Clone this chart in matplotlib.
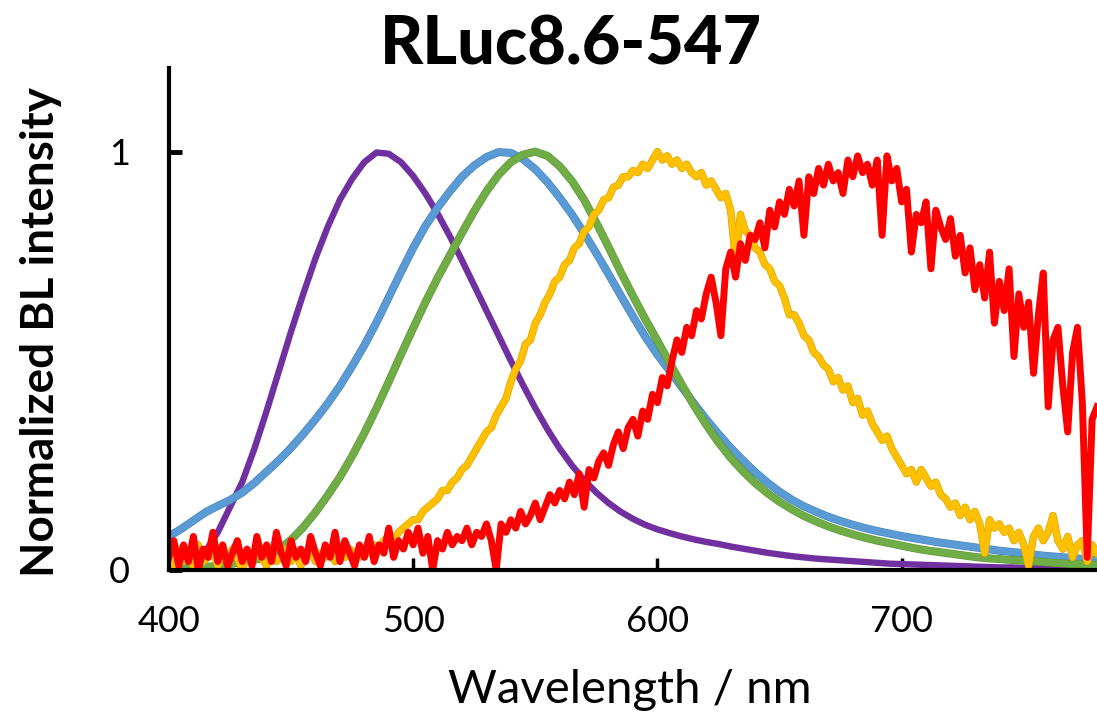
import numpy as np
import matplotlib
matplotlib.use("Agg")
import matplotlib.pyplot as plt
import matplotlib.patheffects as pe

plt.rcParams["font.family"] = ["Lato", "DejaVu Sans"]

# ── Data (normalized BL intensity) ────────────────────────────────────────
# smooth spectra, 5 nm step, 400–780 nm
wl_smooth = np.arange(400, 781, 5)

purple = [0.0, 0.005, 0.015, 0.045, 0.09, 0.15, 0.21, 0.29, 0.38, 0.475,
          0.57, 0.66, 0.745, 0.82, 0.885, 0.935, 0.975, 0.998, 0.995, 0.975,
          0.942, 0.9, 0.852, 0.798, 0.74, 0.68, 0.62, 0.56, 0.5, 0.442,
          0.387, 0.336, 0.29, 0.25, 0.215, 0.185, 0.16, 0.139, 0.122, 0.108,
          0.097, 0.088, 0.08, 0.073, 0.067, 0.062, 0.056, 0.051, 0.046, 0.041,
          0.037, 0.033, 0.03, 0.027, 0.025, 0.023, 0.021, 0.019, 0.017, 0.015,
          0.014, 0.013, 0.012, 0.011, 0.01, 0.009, 0.008, 0.007, 0.006, 0.006,
          0.005, 0.005, 0.004, 0.004, 0.003, 0.003, 0.003]

blue = [0.08, 0.098, 0.118, 0.138, 0.153, 0.167, 0.185, 0.208, 0.235, 0.262,
        0.292, 0.325, 0.36, 0.398, 0.44, 0.487, 0.537, 0.592, 0.652, 0.712,
        0.77, 0.822, 0.866, 0.905, 0.94, 0.967, 0.987, 0.999, 0.997, 0.982,
        0.958, 0.927, 0.89, 0.85, 0.805, 0.757, 0.707, 0.656, 0.606, 0.558,
        0.515, 0.476, 0.437, 0.398, 0.36, 0.325, 0.292, 0.262, 0.234, 0.209,
        0.187, 0.168, 0.152, 0.139, 0.127, 0.117, 0.108, 0.1, 0.093, 0.087,
        0.081, 0.076, 0.071, 0.066, 0.062, 0.058, 0.054, 0.05, 0.046, 0.043,
        0.04, 0.036, 0.033, 0.031, 0.028, 0.026, 0.024]

green = [0.0, 0.002, 0.004, 0.007, 0.01, 0.014, 0.019, 0.024, 0.03, 0.048,
         0.072, 0.102, 0.138, 0.178, 0.222, 0.272, 0.327, 0.387, 0.45, 0.515,
         0.578, 0.64, 0.698, 0.752, 0.806, 0.858, 0.905, 0.945, 0.975, 0.993,
         1.0, 0.99, 0.965, 0.93, 0.885, 0.83, 0.772, 0.712, 0.655, 0.6,
         0.548, 0.495, 0.443, 0.393, 0.347, 0.305, 0.268, 0.236, 0.208, 0.184,
         0.163, 0.145, 0.129, 0.116, 0.104, 0.094, 0.085, 0.077, 0.07, 0.064,
         0.058, 0.052, 0.047, 0.043, 0.039, 0.035, 0.031, 0.028, 0.026, 0.024,
         0.022, 0.02, 0.018, 0.016, 0.014, 0.013, 0.012]

# noisy spectra, 2 nm step, 400–780 nm
wl_noisy = np.arange(400, 781, 2)

yellow = [0.03, 0.0, 0.05, 0.02, 0.04, 0.01, 0.06, 0.02, 0.03, 0.05,
          0.01, 0.04, 0.02, 0.05, 0.03, 0.0, 0.04, 0.02, 0.05, 0.03,
          0.01, 0.04, 0.02, 0.03, 0.05, 0.02, 0.04, 0.01, 0.03, 0.05,
          0.02, 0.04, 0.03, 0.05, 0.02, 0.04, 0.03, 0.05, 0.04, 0.03,
          0.05, 0.04, 0.06, 0.05, 0.07, 0.08, 0.07, 0.09, 0.1, 0.11,
          0.12, 0.12, 0.14, 0.15, 0.16, 0.17, 0.19, 0.19, 0.21, 0.22,
          0.24, 0.25, 0.27, 0.29, 0.31, 0.33, 0.34, 0.37, 0.39, 0.41,
          0.45, 0.48, 0.5, 0.54, 0.55, 0.59, 0.61, 0.64, 0.66, 0.69,
          0.7, 0.73, 0.74, 0.77, 0.78, 0.81, 0.82, 0.85, 0.86, 0.885,
          0.89, 0.915, 0.92, 0.94, 0.94, 0.955, 0.95, 0.97, 0.96, 0.98,
          1.0, 0.98, 0.99, 0.97, 0.98, 0.96, 0.97, 0.95, 0.94, 0.95,
          0.92, 0.93, 0.91, 0.89, 0.9, 0.86, 0.74, 0.85, 0.81, 0.8,
          0.77, 0.76, 0.73, 0.72, 0.69, 0.68, 0.65, 0.61, 0.61, 0.59,
          0.56, 0.55, 0.52, 0.51, 0.49, 0.48, 0.45, 0.46, 0.43, 0.44,
          0.4, 0.41, 0.37, 0.38, 0.35, 0.33, 0.31, 0.32, 0.29, 0.27,
          0.25, 0.23, 0.24, 0.21, 0.24, 0.22, 0.2, 0.21, 0.18, 0.17,
          0.15, 0.16, 0.13, 0.15, 0.12, 0.14, 0.11, 0.04, 0.12, 0.1,
          0.11, 0.09, 0.1, 0.07, 0.09, 0.06, 0.01, 0.08, 0.1, 0.07,
          0.09, 0.13, 0.07, 0.05, 0.08, 0.03, 0.06, 0.07, 0.02, 0.06,
          0.04]

red = [0.03, 0.07, 0.01, 0.06, 0.02, 0.08, 0.0, 0.05, 0.03, 0.09,
       0.02, 0.06, 0.01, 0.04, 0.07, 0.02, 0.05, 0.01, 0.08, 0.03,
       0.06, 0.02, 0.09, 0.04, 0.01, 0.07, 0.03, 0.05, 0.02, 0.08,
       0.04, 0.01, 0.06, 0.03, 0.09, 0.02, 0.07, 0.04, 0.01, 0.06,
       0.03, 0.08, 0.02, 0.06, 0.04, 0.1, 0.03, 0.07, 0.05, 0.09,
       0.06, 0.1, 0.04, 0.08, 0.0, 0.07, 0.05, 0.09, 0.06, 0.08,
       0.07, 0.1, 0.06, 0.09, 0.08, 0.11, 0.07, 0.0, 0.11, 0.09,
       0.12, 0.1, 0.14, 0.11, 0.13, 0.16, 0.12, 0.15, 0.18, 0.16,
       0.19, 0.17, 0.21, 0.18, 0.23, 0.15, 0.24, 0.22, 0.26, 0.28,
       0.25, 0.3, 0.33, 0.29, 0.34, 0.36, 0.32, 0.38, 0.36, 0.42,
       0.4, 0.46, 0.44, 0.5, 0.55, 0.52, 0.58, 0.56, 0.62, 0.6,
       0.66, 0.7, 0.64, 0.56, 0.72, 0.76, 0.7, 0.78, 0.74, 0.8,
       0.79, 0.83, 0.77, 0.86, 0.82, 0.88, 0.85, 0.91, 0.87, 0.93,
       0.8, 0.94, 0.9, 0.96, 0.92, 0.97, 0.93, 0.95, 0.9, 0.98,
       0.94, 0.99, 0.95, 0.97, 0.92, 0.98, 0.8, 0.99, 0.93, 0.96,
       0.88, 0.91, 0.76, 0.85, 0.83, 0.88, 0.72, 0.86, 0.82, 0.79,
       0.84, 0.75, 0.8, 0.71, 0.77, 0.67, 0.73, 0.65, 0.76, 0.59,
       0.69, 0.62, 0.72, 0.51, 0.66, 0.58, 0.64, 0.47, 0.61, 0.71,
       0.39, 0.55, 0.58, 0.44, 0.33, 0.52, 0.58, 0.4, 0.03, 0.36,
       0.39]

x_ticks = [400, 500, 600, 700]
y_ticks = [0, 1]

# ── Plot ──────────────────────────────────────────────────────────────────
fig = plt.figure(figsize=(10.97, 7.16), dpi=100)
ax = fig.add_axes([0.154, 0.204, 0.846, 0.701])

def edge(color, lw):
    return [pe.Stroke(linewidth=lw + 1.0, foreground=color), pe.Normal()]

ax.plot(wl_smooth, purple, color="#7030A0", lw=4.6, solid_joinstyle="round",
        solid_capstyle="round")
ax.plot(wl_smooth, blue, color="#5B9BD5", lw=4.8, solid_joinstyle="round",
        path_effects=edge("#4A86BE", 4.8))
ax.plot(wl_smooth, green, color="#70AD47", lw=4.8, solid_joinstyle="round",
        path_effects=edge("#5E9A3A", 4.8))
ax.plot(wl_noisy, yellow, color="#FFC000", lw=4.4, solid_joinstyle="round",
        path_effects=edge("#E0A800", 4.4))
ax.plot(wl_noisy, red, color="#FF0000", lw=5.0, solid_joinstyle="round")

ax.set_xlim(400, 780)
ax.set_ylim(0, 1.2)
ax.set_xticks(x_ticks)
ax.set_yticks(y_ticks)

for side in ("top", "right"):
    ax.spines[side].set_visible(False)
for side in ("left", "bottom"):
    ax.spines[side].set_linewidth(3)
    ax.spines[side].set_zorder(5)

ax.tick_params(axis="x", direction="in", length=9, width=2.5,
               labelsize=26, pad=25)
ax.tick_params(axis="y", direction="in", length=9, width=3.5,
               labelsize=26, pad=28)

fig.text(0.52, 0.936, "RLuc8.6-547", ha="center", va="center",
         fontsize=48, fontweight="black")
fig.text(0.574, 0.036, "Wavelength / nm", ha="center", va="center",
         fontsize=34)
fig.text(0.037, 0.536, "Normalized BL intensity", ha="center", va="center",
         rotation=90, fontsize=33, fontweight="bold")

fig.savefig("out.png", dpi=100)
